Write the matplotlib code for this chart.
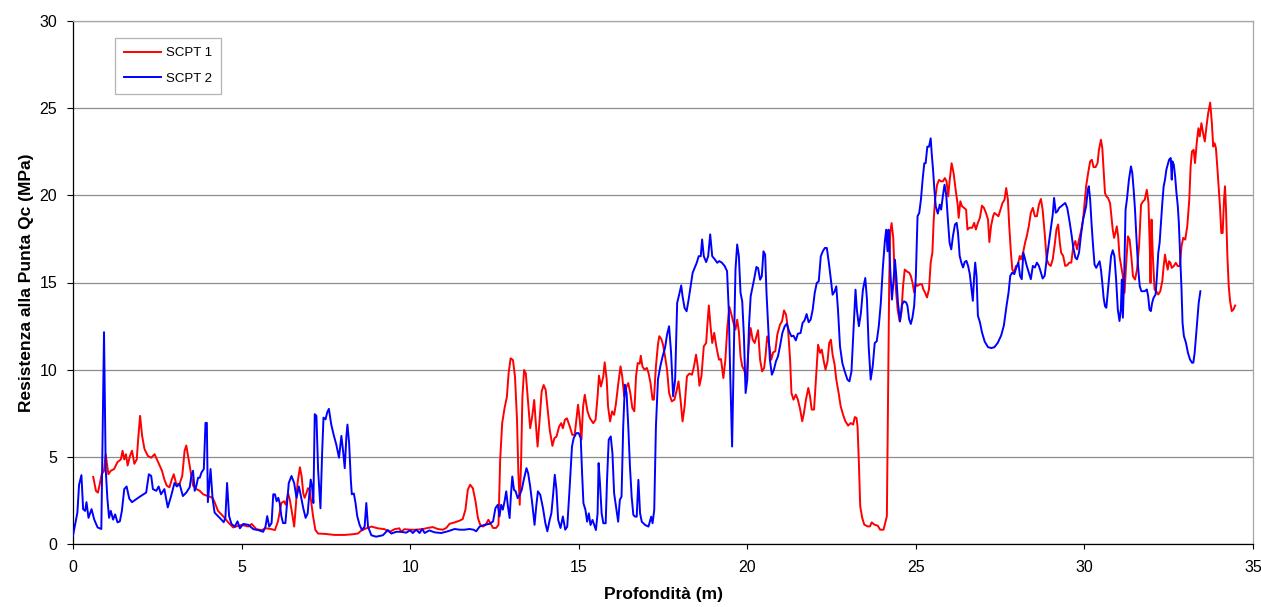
import matplotlib.pyplot as plt
import numpy as np

# SCPT 1 - cone resistance vs depth
scpt1_depth = [
    0.6, 0.68, 0.74, 0.8, 0.85, 0.92, 0.97, 1.05, 1.12, 1.22, 1.32, 1.42, 1.47, 1.52, 1.57, 1.62,
    1.69, 1.75, 1.82, 1.89, 1.94, 1.99, 2.05, 2.12, 2.22, 2.32, 2.42, 2.49, 2.57, 2.64, 2.71, 2.78,
    2.86, 2.93, 2.99, 3.06, 3.16, 3.24, 3.31, 3.36, 3.43, 3.49, 3.56, 3.66, 3.76, 3.86, 4.0, 4.14,
    4.2, 4.3, 4.45, 4.6, 4.75,
    5.0, 5.2, 5.3, 5.44, 5.59, 5.74, 5.89, 5.99, 6.08, 6.18, 6.26, 6.31, 6.38, 6.43, 6.5, 6.56,
    6.6, 6.66, 6.73, 6.78, 6.83, 6.87, 6.92, 6.97, 7.02, 7.07, 7.12, 7.19, 7.27, 7.47, 7.76, 8.06,
    8.3, 8.45, 8.55, 8.7, 8.85, 9.04, 9.24, 9.39, 9.54, 9.68, 9.73, 9.83,
    10.0, 10.18, 10.38, 10.52, 10.67, 10.82, 10.97, 11.07, 11.17, 11.32, 11.47, 11.56, 11.64,
    11.71, 11.78, 11.86, 11.94, 12.01, 12.08, 12.16, 12.24, 12.32, 12.39, 12.46, 12.55, 12.62,
    12.67, 12.73, 12.8, 12.87, 12.92, 12.98, 13.05, 13.11, 13.17, 13.21, 13.25, 13.29, 13.33,
    13.38, 13.43, 13.5, 13.56, 13.62, 13.68, 13.72, 13.78, 13.84, 13.9, 13.96, 14.02, 14.08,
    14.14, 14.22, 14.28, 14.34, 14.42, 14.48, 14.53, 14.59, 14.65, 14.73, 14.81, 14.88,
    14.93, 14.98, 15.03, 15.08, 15.13, 15.18, 15.26, 15.33, 15.43, 15.5, 15.56, 15.6, 15.66,
    15.73, 15.77, 15.83, 15.87, 15.93, 15.99, 16.05, 16.1, 16.17, 16.24, 16.29, 16.35, 16.42,
    16.47, 16.53, 16.59, 16.65, 16.7, 16.75, 16.81, 16.84, 16.89, 16.95, 17.02, 17.07, 17.13,
    17.19, 17.23, 17.29, 17.35, 17.39, 17.45, 17.5, 17.56, 17.62, 17.68, 17.76, 17.84, 17.91,
    17.96, 18.02, 18.08, 18.14, 18.21, 18.28, 18.36, 18.42, 18.48, 18.53, 18.58, 18.64, 18.71,
    18.78, 18.82, 18.86, 18.91, 18.96, 19.02, 19.08, 19.16, 19.22, 19.29, 19.35, 19.41, 19.47,
    19.53, 19.59, 19.65, 19.7, 19.75,
    19.8, 19.85, 19.9, 19.98, 20.04, 20.1, 20.16, 20.22, 20.27, 20.32, 20.38, 20.44, 20.5,
    20.54, 20.59, 20.64, 20.71, 20.77, 20.83, 20.89, 20.97, 21.03, 21.09, 21.15, 21.21, 21.27,
    21.31, 21.37, 21.44, 21.5, 21.56, 21.63, 21.68, 21.74, 21.81, 21.86, 21.91, 21.98, 22.04,
    22.1, 22.16, 22.21, 22.26, 22.32, 22.38, 22.43, 22.48, 22.53, 22.59, 22.64, 22.71, 22.77,
    22.84, 22.91, 22.99, 23.07, 23.14, 23.19, 23.24, 23.27, 23.31, 23.35, 23.41, 23.47, 23.57,
    23.64, 23.69, 23.77, 23.87, 23.94, 24.04, 24.09, 24.14, 24.17, 24.21, 24.24, 24.28, 24.33,
    24.36, 24.41, 24.46, 24.52, 24.57, 24.62, 24.67,
    24.75, 24.8, 24.85, 24.9, 24.95, 25.0, 25.05, 25.12, 25.18, 25.22, 25.27, 25.33, 25.39,
    25.44, 25.49, 25.53, 25.57, 25.63, 25.69, 25.75, 25.8, 25.86, 25.91, 25.96, 26.0, 26.06,
    26.12, 26.18, 26.24, 26.27, 26.32, 26.37, 26.43, 26.49, 26.53, 26.59, 26.67, 26.73, 26.78,
    26.84, 26.9, 26.96, 27.02, 27.08, 27.14, 27.18, 27.23, 27.29, 27.33, 27.39, 27.45, 27.51,
    27.57, 27.63, 27.68, 27.73, 27.77, 27.82, 27.86, 27.91, 27.97, 28.02, 28.08, 28.12, 28.18,
    28.24, 28.29, 28.35, 28.41, 28.47, 28.53, 28.59, 28.65, 28.71, 28.76, 28.82, 28.88, 28.94,
    29.0, 29.06, 29.12, 29.17, 29.22, 29.27, 29.31, 29.37, 29.43, 29.49, 29.55, 29.61, 29.67,
    29.73, 29.78, 29.84, 29.9, 29.96,
    30.05, 30.11, 30.17, 30.22, 30.27, 30.33, 30.39, 30.43, 30.49, 30.53, 30.57, 30.61, 30.65,
    30.7, 30.76, 30.8, 30.84, 30.88, 30.92, 30.96, 31.0, 31.04, 31.09, 31.14, 31.19, 31.24,
    31.29, 31.34, 31.39, 31.44, 31.5, 31.56, 31.62, 31.68, 31.74, 31.79, 31.85, 31.9, 31.94,
    31.96, 31.99, 32.03, 32.08, 32.13, 32.19, 32.25, 32.31, 32.35, 32.39, 32.43, 32.47, 32.51,
    32.55, 32.59, 32.65, 32.71, 32.77, 32.83, 32.88, 32.93, 32.99, 33.05, 33.11, 33.15, 33.19,
    33.24, 33.28, 33.33, 33.38, 33.42, 33.47, 33.52, 33.57, 33.62, 33.67, 33.73, 33.78, 33.82,
    33.86, 33.9, 33.94, 33.98, 34.02, 34.06, 34.1, 34.14, 34.17, 34.2, 34.24, 34.28, 34.32,
    34.37, 34.42, 34.47,
]
scpt1_qc = [
    3.85, 3.05, 2.95, 3.5, 4.0, 4.2, 5.15, 4.0, 4.2, 4.3, 4.7, 4.85, 5.35, 4.85, 5.15, 4.5,
    5.05, 5.35, 4.6, 4.85, 6.2, 7.35, 6.2, 5.45, 5.05, 4.95, 5.15, 4.85, 4.5, 4.2, 3.7, 3.35,
    3.25, 3.7, 4.0, 3.45, 3.45, 3.9, 5.35, 5.65, 4.85, 4.2, 3.35, 3.15, 3.05, 2.85, 2.75, 2.65,
    2.4, 1.9, 1.6, 1.25, 0.95,
    1.1, 1.0, 1.15, 0.85, 0.8, 0.9, 0.85, 0.8, 1.3, 2.35, 2.45, 2.25, 2.9, 2.55, 1.75, 1.0,
    1.95, 3.5, 4.4, 3.9, 2.9, 2.65, 2.9, 3.2, 3.1, 2.35, 1.6, 0.8, 0.6, 0.58, 0.52, 0.52,
    0.56, 0.6, 0.77, 0.9, 1.0, 0.9, 0.85, 0.7, 0.85, 0.9, 0.7, 0.85,
    0.82, 0.82, 0.86, 0.92, 0.97, 0.86, 0.82, 0.92, 1.16, 1.24, 1.34, 1.43, 1.97,
    3.11, 3.4, 3.2, 2.44, 1.49, 1.1, 1.0, 1.1, 1.39, 1.16, 0.92, 0.92, 1.1,
    4.83, 6.93, 7.79, 8.45, 9.79, 10.65, 10.55, 9.6, 7.12, 4.06, 2.25, 4.64, 8.45,
    9.98, 9.79, 8.07, 6.64, 7.31, 8.26, 7.12, 5.59, 7.12, 8.74, 9.12, 8.84, 7.69,
    6.55, 5.63, 6.07, 6.16, 6.74, 6.93, 6.64, 7.12, 7.21, 6.77, 6.26, 6.26,
    7.13, 7.99, 7.13, 5.98, 7.89, 8.56, 7.61, 7.22, 6.93, 7.13, 8.47, 9.66, 9.04,
    9.62, 10.42, 9.43, 7.89, 7.03, 7.61, 7.41, 7.99, 9.14, 10.19, 9.62, 8.47, 9.04,
    9.23, 8.66, 7.8, 7.61, 9.62, 10.38, 10.34, 10.8, 10.19, 10.0, 10.1, 9.81, 9.23,
    8.28, 8.28, 10.19, 11.44, 11.92, 11.76, 11.44, 10.77, 10.0, 8.66, 8.18, 8.28, 8.85,
    9.33, 8.28, 7.03, 7.89, 9.62, 9.77, 9.71, 10.19, 10.86, 10.19, 9.08, 9.62, 11.34,
    11.53, 12.68, 13.68, 12.49, 11.53, 12.11, 11.34, 10.57, 10.61, 9.52, 10.57, 12.49, 13.6,
    13.16, 12.68, 12.3, 12.87, 12.2,
    10.76, 10.19, 10.0, 9.52, 11.34, 12.39, 11.72, 11.53, 11.91, 12.26, 10.57, 9.9, 10.1,
    10.76, 11.91, 11.53, 10.57, 11.0, 11.05, 12.01, 12.58, 12.77, 13.4, 13.15, 12.29, 10.57,
    8.66, 8.28, 8.57, 8.28, 7.8, 7.04, 7.51, 8.28, 8.95, 8.47, 7.71, 7.71, 9.62,
    11.43, 10.96, 11.15, 10.57, 10.0, 10.48, 11.53, 11.72, 10.86, 10.29, 9.43, 8.66, 7.9,
    7.42, 7.04, 6.79, 6.94, 6.85, 7.28, 7.23, 6.75, 4.65, 2.16, 1.49, 1.11, 1.01,
    1.01, 1.24, 1.11, 1.05, 0.82, 0.82, 1.2, 1.59, 7.51, 15.16, 17.84, 18.41, 17.55,
    15.93, 14.59, 13.44, 12.77, 13.25, 14.78, 15.74,
    15.61, 15.57, 15.38, 15.0, 14.43, 14.9, 14.81, 14.9, 14.9, 14.62, 14.43, 14.14, 14.62,
    16.14, 16.71, 18.61, 19.75, 20.61, 20.89, 20.8, 20.8, 20.99, 20.8, 19.94, 20.8, 21.84,
    21.27, 20.32, 19.47, 18.71, 19.66, 19.37, 19.28, 19.18, 18.04, 18.14, 18.14, 18.42, 18.04,
    18.42, 18.71, 19.41, 19.28, 18.99, 18.61, 17.32, 18.23, 18.8, 18.99, 18.9, 18.8, 19.18,
    19.56, 19.75, 20.42, 19.75, 18.23, 16.71, 15.76, 15.57, 15.95, 15.95, 16.52, 16.33, 16.71,
    17.28, 17.66, 18.23, 19.0, 19.28, 18.8, 18.8, 19.47, 19.79, 19.18, 17.85, 16.33, 16.05,
    15.95, 16.33, 17.19, 18.04, 18.33, 17.28, 16.71, 16.52, 15.95, 15.99, 16.14, 16.14, 17.09,
    17.38, 16.9, 17.47, 17.95, 18.61,
    20.52, 21.28, 21.95, 22.04, 21.62, 21.62, 21.85, 22.61, 23.19, 22.71, 21.47, 20.13, 19.94,
    19.85, 19.56, 18.8, 18.03, 17.56, 17.84, 18.22, 17.65, 16.51, 15.94, 15.36, 14.41, 16.13,
    17.65, 17.46, 16.51, 15.36, 15.17, 15.74, 17.08, 19.47, 19.66, 19.75, 20.32, 19.56, 16.89,
    14.98, 18.61, 16.51, 14.6, 14.5, 14.31, 14.5, 15.08, 15.94, 16.6, 16.13, 15.74, 16.22,
    16.13, 15.84, 15.94, 16.13, 15.94, 15.94, 17.08, 17.56, 17.46, 18.22, 19.75, 21.66, 22.52,
    22.61, 21.85, 22.99, 23.85, 23.38, 24.14, 23.57, 23.09, 23.95, 24.71, 25.32, 24.14, 22.8,
    22.99, 22.71, 21.66, 20.52, 19.37, 17.84, 17.84, 19.75, 20.52, 19.18, 16.51, 14.79, 13.93,
    13.36, 13.45, 13.68,
]

# SCPT 2 - cone resistance vs depth
scpt2_depth = [
    0.0, 0.13, 0.18, 0.25, 0.3, 0.36, 0.4, 0.46, 0.55, 0.63, 0.73, 0.84, 0.92, 0.97, 1.02, 1.07,
    1.12, 1.19, 1.25, 1.32, 1.39, 1.45, 1.52, 1.59, 1.67, 1.75, 1.97, 2.17, 2.25, 2.32, 2.37,
    2.47, 2.54, 2.61, 2.71, 2.81, 2.91, 3.01, 3.08, 3.16, 3.26, 3.36, 3.46, 3.51, 3.56, 3.61,
    3.66, 3.71, 3.76, 3.81, 3.88, 3.93, 3.97, 4.0, 4.08, 4.14, 4.2, 4.3, 4.4, 4.47, 4.52, 4.57,
    4.63, 4.7,
    4.8, 4.88, 4.95, 5.05, 5.2, 5.35, 5.49, 5.64, 5.71, 5.76, 5.82, 5.89, 5.94, 5.99, 6.04,
    6.09, 6.13, 6.18, 6.23, 6.3, 6.36, 6.4, 6.48, 6.56, 6.63, 6.7, 6.76, 6.83, 6.9, 6.96, 7.02,
    7.05, 7.09, 7.13, 7.17, 7.22, 7.27, 7.34, 7.39, 7.43, 7.49, 7.54, 7.59, 7.66, 7.74, 7.81,
    7.89, 7.96, 8.01, 8.06, 8.11, 8.14, 8.19, 8.24, 8.27, 8.33, 8.38, 8.43, 8.5, 8.57, 8.65,
    8.7, 8.75, 8.85, 8.99, 9.19, 9.34, 9.44, 9.59, 9.73, 9.88,
    10.0, 10.08, 10.18, 10.28, 10.36, 10.43, 10.57, 10.72, 10.92, 11.12, 11.32, 11.47, 11.61,
    11.76, 11.88, 11.96, 12.06, 12.21, 12.36, 12.46, 12.53, 12.6, 12.65, 12.7, 12.75, 12.8,
    12.85, 12.9, 12.95, 12.99, 13.03, 13.08, 13.13, 13.19, 13.25, 13.31, 13.37, 13.45, 13.5,
    13.56, 13.62, 13.69, 13.74, 13.79, 13.86, 13.94, 14.01, 14.07, 14.14, 14.19, 14.24, 14.29,
    14.34, 14.39, 14.46, 14.53, 14.6, 14.66, 14.73, 14.8, 14.85, 14.93,
    15.0, 15.06, 15.1, 15.14, 15.2, 15.25, 15.3, 15.35, 15.41, 15.46, 15.51, 15.56, 15.59,
    15.63, 15.68, 15.73, 15.8, 15.84, 15.89, 15.95, 16.0, 16.05, 16.1, 16.17, 16.22, 16.27,
    16.32, 16.37, 16.42, 16.47, 16.52, 16.57, 16.62, 16.67, 16.72, 16.77, 16.82, 16.87, 16.97,
    17.07, 17.15, 17.19, 17.24, 17.29, 17.35, 17.42, 17.49, 17.56, 17.62, 17.68, 17.74, 17.8,
    17.86, 17.92, 17.98, 18.04, 18.08, 18.14, 18.2, 18.26, 18.32, 18.38, 18.44, 18.5, 18.56,
    18.62, 18.66, 18.71, 18.78, 18.84, 18.9, 18.96, 19.04, 19.11, 19.17, 19.25, 19.33, 19.4,
    19.45, 19.49, 19.55, 19.6, 19.65, 19.7, 19.75,
    19.8, 19.85, 19.9, 19.95, 20.0, 20.05, 20.1, 20.15, 20.2, 20.27, 20.32, 20.38, 20.43,
    20.48, 20.53, 20.57, 20.62, 20.67, 20.73, 20.79, 20.85, 20.91, 20.97, 21.04, 21.11, 21.17,
    21.24, 21.31, 21.37, 21.44, 21.5, 21.58, 21.64, 21.7, 21.76, 21.82, 21.88, 21.94, 22.0,
    22.06, 22.12, 22.18, 22.24, 22.3, 22.36, 22.42, 22.48, 22.53, 22.59, 22.64, 22.69, 22.75,
    22.82, 22.89, 22.97, 23.03, 23.09, 23.15, 23.21, 23.25, 23.31, 23.37, 23.43, 23.5, 23.55,
    23.6, 23.66, 23.72, 23.78, 23.84, 23.9, 23.96, 24.02, 24.08, 24.12, 24.16, 24.19, 24.24,
    24.29, 24.34, 24.38, 24.42, 24.47, 24.53, 24.59, 24.65,
    24.71, 24.75, 24.8, 24.85, 24.9, 24.95, 25.0, 25.05, 25.1, 25.15, 25.2, 25.25, 25.29,
    25.34, 25.39, 25.44, 25.47, 25.51, 25.55, 25.59, 25.65, 25.71, 25.75, 25.8, 25.85, 25.9,
    25.95, 26.0, 26.05, 26.1, 26.16, 26.21, 26.25, 26.3, 26.35, 26.4, 26.45, 26.5, 26.55,
    26.6, 26.65, 26.69, 26.73, 26.76, 26.8, 26.84, 26.9, 26.96, 27.04, 27.14, 27.24, 27.33,
    27.43, 27.53, 27.61, 27.69, 27.75, 27.8, 27.86, 27.92, 27.98, 28.04, 28.09, 28.14, 28.19,
    28.24, 28.29, 28.35, 28.41, 28.47, 28.53, 28.59, 28.65, 28.71, 28.76, 28.82, 28.88, 28.94,
    29.0, 29.06, 29.1, 29.15, 29.2, 29.25, 29.31, 29.37, 29.43, 29.49, 29.55, 29.61, 29.67,
    29.73, 29.78, 29.84, 29.9, 29.96,
    30.05, 30.1, 30.13, 30.17, 30.21, 30.25, 30.3, 30.35, 30.4, 30.45, 30.49, 30.53, 30.57,
    30.61, 30.65, 30.69, 30.74, 30.79, 30.84, 30.89, 30.94, 30.99, 31.04, 31.08, 31.11, 31.14,
    31.18, 31.22, 31.26, 31.32, 31.38, 31.42, 31.46, 31.5, 31.54, 31.59, 31.64, 31.69, 31.74,
    31.79, 31.85, 31.89, 31.93, 31.97, 32.01, 32.05, 32.11, 32.15, 32.19, 32.23, 32.27, 32.31,
    32.35, 32.39, 32.43, 32.47, 32.51, 32.56, 32.59, 32.61, 32.65, 32.69, 32.73, 32.77, 32.8,
    32.84, 32.88, 32.91, 32.95, 33.01, 33.07, 33.13, 33.19, 33.23, 33.27, 33.31, 33.35, 33.39,
    33.44,
]
scpt2_qc = [
    0.48, 1.8, 3.4, 3.95, 2.0, 1.9, 2.4, 1.5, 2.0, 1.4, 0.95, 0.86, 12.15, 4.3, 2.6, 1.5,
    1.9, 1.4, 1.7, 1.24, 1.3, 1.9, 3.15, 3.3, 2.6, 2.4, 2.7, 2.95, 4.0, 3.9, 3.15,
    3.05, 3.3, 2.85, 3.15, 2.1, 2.75, 3.5, 3.3, 3.45, 2.75, 2.95, 3.25, 3.9, 4.2, 3.05,
    3.35, 3.8, 3.8, 4.1, 4.3, 6.95, 6.95, 2.4, 4.3, 2.6, 1.8, 1.6, 1.4, 1.25, 1.5, 3.5,
    1.6, 1.15,
    1.0, 1.3, 0.9, 1.15, 1.1, 0.85, 0.8, 0.7, 1.0, 1.6, 1.0, 1.2, 2.85, 2.85, 2.45,
    2.65, 2.35, 1.6, 1.2, 1.2, 2.55, 3.5, 3.9, 3.5, 2.65, 3.3, 2.75, 2.05, 1.5, 1.75, 3.1,
    3.7, 3.3, 2.35, 7.45, 7.35, 4.25, 2.05, 5.25, 7.25, 7.15, 7.55, 7.75, 6.85, 6.2, 5.7,
    4.95, 6.2, 5.35, 4.35, 6.2, 6.85, 5.8, 3.7, 2.85, 2.9, 2.35, 1.6, 1.1, 0.8, 1.0,
    2.35, 1.0, 0.5, 0.42, 0.5, 0.8, 0.6, 0.7, 0.7, 0.65,
    0.78, 0.63, 0.82, 0.63, 0.86, 0.63, 0.78, 0.67, 0.63, 0.73, 0.86, 0.82, 0.82,
    0.86, 0.82, 0.73, 1.0, 1.1, 1.16, 1.3, 2.06, 2.25, 1.58, 2.25, 1.97, 2.44,
    3.02, 2.16, 1.49, 2.82, 3.87, 3.11, 3.02, 2.63, 2.82, 3.11, 3.68, 4.35, 4.06,
    3.3, 2.35, 1.1, 2.16, 3.02, 2.82, 2.06, 1.2, 0.73, 1.39, 1.77, 2.82, 3.97,
    3.11, 1.39, 0.92, 1.58, 0.82, 1.0, 3.2, 5.59, 6.07, 6.36,
    6.36, 6.07, 4.06, 2.34, 1.95, 1.28, 1.76, 1.09, 1.38, 1.09, 0.8, 1.76, 4.64,
    3.49, 1.76, 1.19, 1.19, 3.68, 5.98, 6.17, 5.21, 2.91, 2.24, 1.28, 2.53, 2.72,
    6.74, 9.14, 8.66, 6.74, 4.44, 2.72, 1.67, 1.57, 1.57, 3.68, 1.76, 1.28, 1.09,
    1.0, 1.57, 1.19, 1.95, 6.74, 9.43, 10.19, 10.77, 11.25, 12.01, 12.49, 10.96, 8.47,
    9.43, 13.83, 14.31, 14.83, 14.21, 13.54, 13.35, 14.02, 14.79, 15.56, 15.84, 16.13, 16.51,
    16.51, 17.47, 16.51, 16.17, 16.51, 17.76, 16.51, 16.32, 16.13, 16.23, 16.13, 15.94, 15.65,
    13.45, 10.0, 5.59, 10.96, 15.75, 17.18, 16.51,
    14.4, 13.92, 11.91, 8.66, 9.43, 12.49, 14.21, 14.68, 15.16, 15.89, 15.83, 15.16, 15.35,
    16.79, 16.6, 14.4, 12.49, 10.57, 9.71, 10.0, 10.48, 10.76, 11.34, 12.1, 12.49, 12.64,
    12.2, 11.91, 11.95, 11.68, 12.06, 12.1, 12.68, 12.83, 13.19, 12.72, 12.87, 13.44, 14.4,
    14.97, 15.07, 16.5, 16.79, 16.98, 16.98, 16.12, 15.16, 14.3, 14.49, 14.78, 13.44, 11.34,
    10.38, 9.9, 9.43, 9.33, 9.9, 12.29, 14.59, 13.44, 12.49, 13.25, 14.59, 15.26, 14.02,
    11.34, 9.43, 10.19, 11.53, 11.63, 12.49, 13.82, 15.83, 17.36, 18.03, 16.79, 18.03, 15.74,
    14.02, 15.16, 16.31, 15.35, 13.82, 12.77, 13.73, 13.92,
    13.86, 13.67, 12.9, 12.62, 13.0, 13.67, 15.38, 18.8, 18.99, 19.75, 20.89, 21.84, 21.84,
    22.79, 22.79, 23.27, 22.41, 21.46, 20.32, 19.37, 18.95, 19.47, 19.18, 19.94, 20.61, 20.04,
    18.61, 17.28, 16.9, 17.66, 18.33, 18.42, 17.85, 16.52, 16.14, 15.86, 16.18, 16.24, 15.95,
    15.48, 14.62, 13.95, 15.38, 16.14, 15.38, 13.1, 12.72, 12.15, 11.62, 11.29, 11.24, 11.29,
    11.54, 11.96, 12.53, 13.67, 14.43, 15.38, 15.57, 15.48, 15.86, 16.14, 15.38, 15.19, 16.71,
    16.33, 15.95, 15.57, 15.19, 15.95, 15.86, 16.14, 15.95, 15.57, 15.23, 15.38, 16.33, 17.19,
    18.04, 18.9, 19.85, 19.0, 19.09, 19.28, 19.37, 19.47, 19.56, 19.28, 18.61, 17.85, 17.0,
    16.43, 16.33, 16.71, 17.76, 18.61,
    19.37, 20.32, 20.52, 19.75, 18.42, 17.27, 16.03, 15.84, 16.03, 16.22, 15.74, 14.98, 14.12,
    13.64, 13.55, 14.41, 15.55, 16.51, 16.85, 16.51, 15.17, 13.45, 12.79, 13.45, 15.17, 12.98,
    15.36, 19.18, 19.75, 20.9, 21.66, 21.28, 20.32, 19.18, 17.65, 15.94, 14.79, 14.5, 14.5,
    14.5, 14.6, 14.22, 13.45, 13.36, 13.84, 14.12, 14.31, 15.36, 16.7, 17.27, 18.42, 19.56,
    20.52, 20.9, 21.47, 21.76, 22.04, 22.14, 20.9, 21.95, 21.76, 21.09, 20.13, 19.37, 18.42,
    16.51, 14.6, 12.69, 11.93, 11.55, 10.97, 10.59, 10.4, 10.4, 10.97, 11.93, 12.88, 13.84,
    14.5,
]

y_ticks = [0, 5, 10, 15, 20, 25, 30]
x_ticks = [0, 5, 10, 15, 20, 25, 30, 35]

plt.rcParams['font.family'] = ['Liberation Sans', 'DejaVu Sans']

fig = plt.figure(figsize=(12.61, 6.07), dpi=100)
ax = fig.add_axes([73 / 1261, 63 / 607, 1180 / 1261, 523 / 607])

ax.plot(scpt1_depth, scpt1_qc, color='#ff0000', linewidth=1.4, label='SCPT 1', zorder=3)
ax.plot(scpt2_depth, scpt2_qc, color='#0000ff', linewidth=1.4, label='SCPT 2', zorder=4)

ax.set_xlim(0, 35)
ax.set_ylim(0, 30)
ax.set_xticks(x_ticks)
ax.set_yticks(y_ticks)
ax.tick_params(axis='both', labelsize=11.5, width=0.8, direction='out', color='#000000')
ax.tick_params(axis='x', length=3.5, pad=8)
ax.tick_params(axis='y', length=4.5, pad=7)
ax.yaxis.grid(True, color='#8c8c8c', linewidth=0.9)
ax.set_axisbelow(True)

for side in ['left', 'bottom']:
    ax.spines[side].set_color('#000000')
    ax.spines[side].set_linewidth(0.9)
for side in ['top', 'right']:
    ax.spines[side].set_color('#a6a6a6')
    ax.spines[side].set_linewidth(0.9)

ax.set_xlabel('Profondità (m)', fontsize=12.5, fontweight='bold', labelpad=9)
ax.set_ylabel('Resistenza alla Punta Qc (MPa)', fontsize=12.5, fontweight='bold', labelpad=4)

leg = ax.legend(loc='upper left', bbox_to_anchor=(0.0356, 0.9675), borderaxespad=0,
                fontsize=9.5, frameon=True, fancybox=False, edgecolor='#a0a0a0',
                handlelength=2.8, handletextpad=0.35, labelspacing=1.0, borderpad=0.7)
leg.get_frame().set_linewidth(0.9)

fig.savefig('out.png', dpi=100)
